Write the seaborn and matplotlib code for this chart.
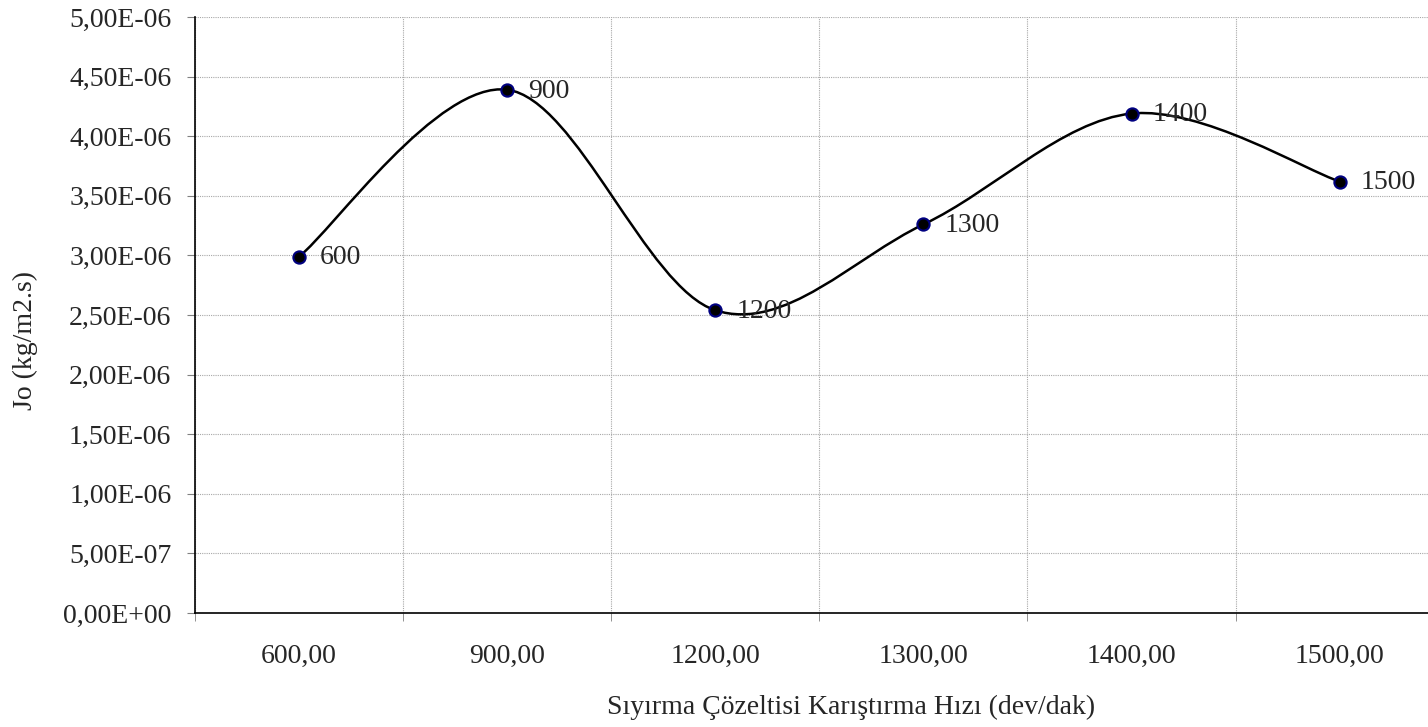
import numpy as np
import pandas as pd
import matplotlib
matplotlib.use('Agg')
import matplotlib.pyplot as plt
from matplotlib.path import Path
from matplotlib.patches import PathPatch
from matplotlib.ticker import FuncFormatter, FixedLocator
import seaborn as sns

# veriler
hiz = ['600,00', '900,00', '1200,00', '1300,00', '1400,00', '1500,00']
etiket = ['600', '900', '1200', '1300', '1400', '1500']
jo = [2.99e-06, 4.39e-06, 2.54e-06, 3.26e-06, 4.19e-06, 3.62e-06]

df = pd.DataFrame({'x': range(len(hiz)), 'jo': jo})

sns.set_style('white')
plt.rcParams['font.family'] = ['Liberation Serif', 'DejaVu Serif']

fig = plt.figure(figsize=(14.28, 7.27), dpi=100)
ax = fig.add_axes([0.1366, 0.1568, 0.8744, 0.8198])

# Excel tarzı yumuşatılmış çizgi (Bezier)
px = df['x'].values.astype(float)
py = df['jo'].values
verts = [(px[0], py[0])]
codes = [Path.MOVETO]
n = len(px)
for i in range(n - 1):
    p0 = (px[max(i - 1, 0)], py[max(i - 1, 0)])
    p1 = (px[i], py[i])
    p2 = (px[i + 1], py[i + 1])
    p3 = (px[min(i + 2, n - 1)], py[min(i + 2, n - 1)])
    c1 = (p1[0] + (p2[0] - p0[0]) / 6, p1[1] + (p2[1] - p0[1]) / 6)
    c2 = (p2[0] - (p3[0] - p1[0]) / 6, p2[1] - (p3[1] - p1[1]) / 6)
    verts += [c1, c2, p2]
    codes += [Path.CURVE4] * 3
ax.add_patch(PathPatch(Path(verts, codes), facecolor='none', edgecolor='black', lw=1.8, zorder=3))

sns.scatterplot(data=df, x='x', y='jo', ax=ax, s=78, color='black',
                edgecolor='#000080', linewidth=1.5, zorder=4, legend=False)

for i in range(n):
    ax.annotate(etiket[i], (px[i], py[i]), xytext=(15, -1), textcoords='offset points',
                va='center', ha='left', fontsize=20)

ax.set_xlim(-0.5, 5.5)
ax.set_ylim(0, 5e-06)
ax.set_yticks(np.arange(0, 5.01e-06, 5e-07))
ax.yaxis.set_major_formatter(FuncFormatter(lambda v, p: ('%.2E' % v).replace('.', ',')))
ax.set_xticks(range(n))
ax.set_xticklabels(hiz)
ax.xaxis.set_minor_locator(FixedLocator(np.arange(-0.5, 5.6, 1)))
ax.tick_params(axis='x', which='major', length=0, pad=22, labelsize=20)
ax.tick_params(axis='x', which='minor', length=6, color='#808080', direction='out', bottom=True)
ax.tick_params(axis='y', length=6, color='#808080', direction='out', left=True, labelsize=20, pad=11)

ax.grid(False)
ax.xaxis.grid(True, which='minor', color='#a8a8a8', lw=0.8, ls=(0, (1, 1)))
ax.yaxis.grid(True, which='major', color='#a8a8a8', lw=0.8, ls=(0, (1, 1)))
ax.set_axisbelow(True)

for s in ['top', 'right']:
    ax.spines[s].set_visible(False)
ax.spines['left'].set_color('black')
ax.spines['bottom'].set_color('black')
ax.spines['left'].set_linewidth(1.2)
ax.spines['bottom'].set_linewidth(1.2)

ax.set_xlabel('Sıyırma Çözeltisi Karıştırma Hızı (dev/dak)', fontsize=20)
ax.set_ylabel('Jo (kg/m2.s)', fontsize=20)
ax.xaxis.set_label_coords(0.525, -0.138)
ax.yaxis.set_label_coords(-0.126, 0.458)

fig.savefig('out.png', dpi=100)
